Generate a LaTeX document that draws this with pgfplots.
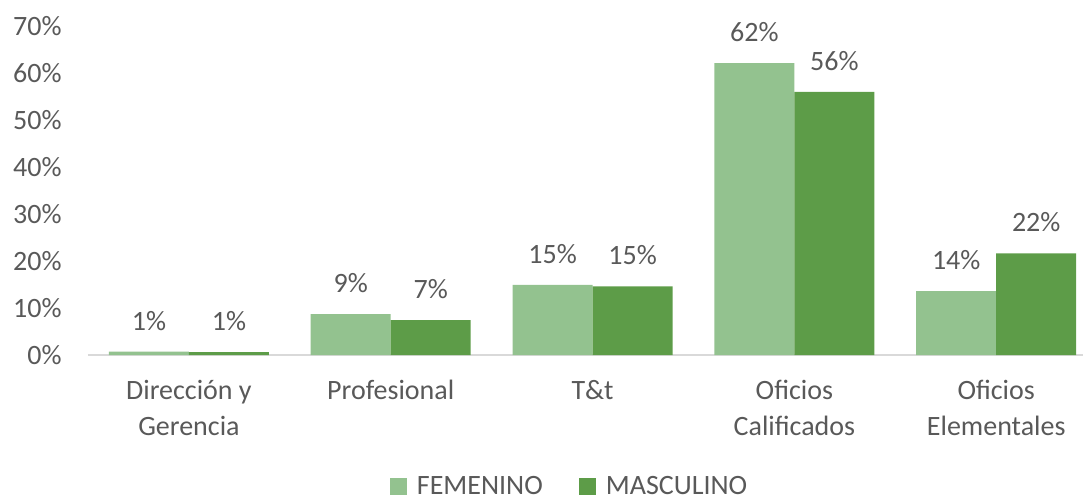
\documentclass[border=0pt]{standalone}
\usepackage{fontspec}
\setmainfont{Carlito}
\usepackage{pgfplots}
\pgfplotsset{compat=1.18}
\definecolor{fem}{HTML}{93C28F}
\definecolor{mas}{HTML}{5D9C48}
\definecolor{txt}{HTML}{595959}
\definecolor{axl}{HTML}{D9D9D9}
\begin{document}
\begin{tikzpicture}
\path[use as bounding box] (-44pt,-72.5pt) rectangle (498.5pt,177.5pt);
\begin{axis}[
  scale only axis,
  width=497.5pt, height=164.5pt,
  ybar=0pt, bar width=40pt,
  xmin=-0.5, xmax=4.43,
  ymin=0, ymax=70,
  ytick={0,10,...,70},
  yticklabel={\pgfmathprintnumber{\tick}\%},
  xtick={0,1,2,3,4},
  xticklabels={{Dirección y\\Gerencia},Profesional,{T\&t},{Oficios\\Calificados},{Oficios\\Elementales}},
  /pgf/number format/assume math mode=true,
  axis x line*=bottom, axis y line*=left,
  y axis line style={draw=none},
  x axis line style={draw=axl, line width=1pt},
  major tick length=0pt,
  tick style={draw=none},
  clip=false,
  ticklabel style={font=\fontsize{14}{18}\selectfont, text=txt},
  yticklabel style={inner sep=0pt, xshift=-13pt},
  xticklabel style={inner sep=0pt, yshift=-12.5pt, align=center},
  nodes near coords={\pgfmathprintnumber[fixed,precision=0]{\pgfplotspointmeta}\%},
  every node near coord/.append style={font=\fontsize{14}{18}\selectfont, text=txt, inner sep=0pt, anchor=south, yshift=10.5pt},
  legend style={at={(0.485,-0.40)}, anchor=center, draw=none, legend columns=2,
    font=\fontsize{14}{18}\selectfont, text=txt,
    /tikz/every even column/.append style={column sep=16pt},
    /tikz/every odd column/.append style={column sep=3pt}},
  legend image code/.code={\fill[#1] (0pt,-4.25pt) rectangle (8.5pt,4.25pt);},
]
\addplot[fill=fem, draw=none] coordinates {(0,0.7) (1,8.7) (2,14.9) (3,62.1) (4,13.6)};
\addplot[fill=mas, draw=none] coordinates {(0,0.6) (1,7.4) (2,14.6) (3,56.0) (4,21.6)};
\legend{FEMENINO,MASCULINO}
\end{axis}
\end{tikzpicture}
\end{document}
